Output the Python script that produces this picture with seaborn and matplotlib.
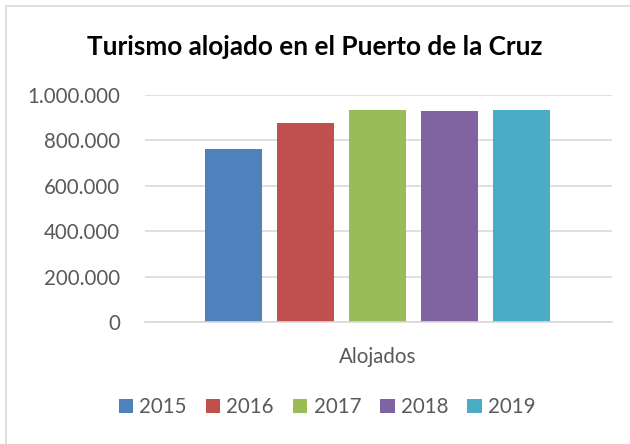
import numpy as np
import pandas as pd
import matplotlib
matplotlib.use('Agg')
import matplotlib.pyplot as plt
from matplotlib.ticker import FuncFormatter
from matplotlib.patches import Rectangle
import seaborn as sns

# data
categoria = ['Alojados']
years = ['2015', '2016', '2017', '2018', '2019']
alojados = [762000, 877000, 934000, 930000, 934000]
colores = ['#4f81bd', '#c0504d', '#9bbb59', '#8064a2', '#4bacc6']

df = pd.DataFrame({'cat': categoria * len(years), 'year': years, 'val': alojados})

sns.set_theme(style='white')
plt.rcParams['font.family'] = ['Lato', 'DejaVu Sans']

fig = plt.figure(figsize=(6.30, 4.44), dpi=100)
ax = fig.add_axes([145/630, 1-322/444, (612-145)/630, (322-95)/444])

sns.barplot(data=df, x='cat', y='val', hue='year', palette=colores,
            saturation=1, width=0.837, gap=0.21, linewidth=0, ax=ax, legend=True)

ax.set_ylim(0, 1000000)
ax.set_xlim(-0.5406, 0.5455)
ax.set_yticks(np.arange(0, 1000001, 200000))
ax.yaxis.set_major_formatter(FuncFormatter(lambda v, p: f'{int(v):,}'.replace(',', '.')))
ax.yaxis.grid(True, color='#d9d9d9', linewidth=1.2)
ax.set_axisbelow(True)
for s in ['top', 'right', 'left']:
    ax.spines[s].set_visible(False)
ax.spines['bottom'].set_color('#d9d9d9')
ax.spines['bottom'].set_linewidth(1.2)
ax.tick_params(axis='both', length=0, labelsize=14.8, labelcolor='#595959')
ax.tick_params(axis='y', pad=18)
ax.tick_params(axis='x', pad=18)
ax.set_xlabel('')
ax.set_ylabel('')

fig.text(315/630, 1-47/444, 'Turismo alojado en el Puerto de la Cruz',
         ha='center', va='center', fontsize=18.8, fontweight='bold', color='black')

handles, labels = ax.get_legend_handles_labels()
ax.legend(handles, labels, loc='center', bbox_to_anchor=(327/630, 1-407/444),
          bbox_transform=fig.transFigure, ncol=5, frameon=False,
          handlelength=0.7, handleheight=0.7, handletextpad=0.3, columnspacing=0.93,
          prop={'size': 14.8}, labelcolor='#595959')

fig.patches.append(Rectangle((6/630, -0.1), 1.2, 1-6/444+0.1, transform=fig.transFigure,
                             fill=False, edgecolor='#d9d9d9', linewidth=1.2))

fig.savefig('out.png', dpi=100, facecolor='white')
